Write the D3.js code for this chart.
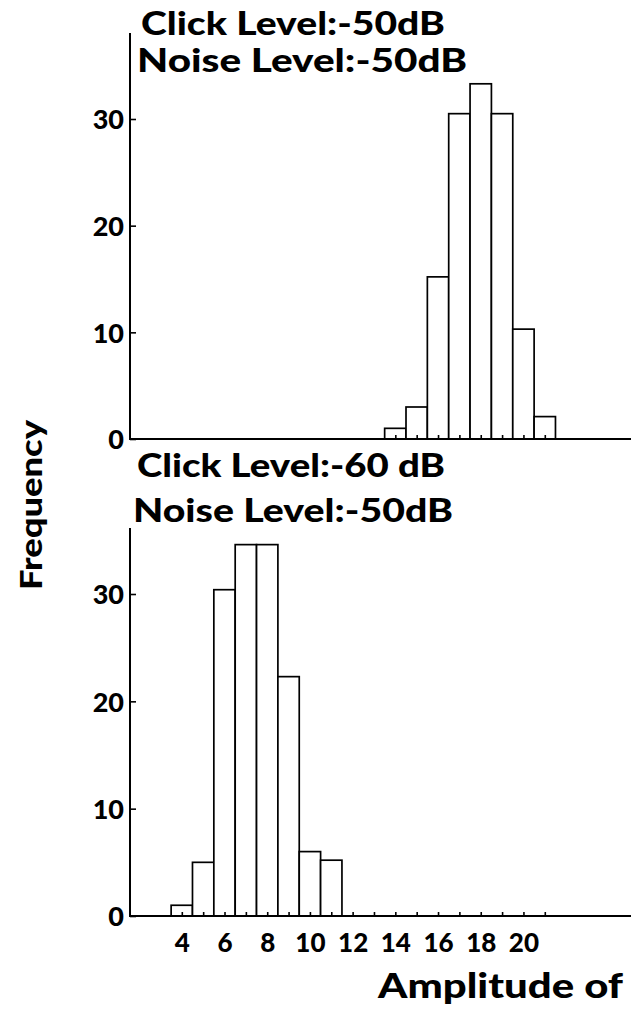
<!DOCTYPE html>
<html>
<head>
<meta charset="utf-8">
<script src="https://cdn.jsdelivr.net/npm/d3@7"></script>
<style>
  html, body { margin: 0; padding: 0; background: #fff; }
  svg { display: block; }
  text { font-family: Lato, "DejaVu Sans", sans-serif; font-weight: 900; fill: #000; }
</style>
</head>
<body>
<svg id="chart" width="631" height="1013"></svg>
<script>
// ---- data ----
const topAmplitudes = [14, 15, 16, 17, 18, 19, 20, 21];
const topCounts = [1, 3, 15.2, 30.5, 33.3, 30.5, 10.3, 2.1];
const bottomAmplitudes = [4, 5, 6, 7, 8, 9, 10, 11];
const bottomCounts = [1, 5, 30.4, 34.6, 34.6, 22.3, 6, 5.2];
const yTickValues = [0, 10, 20, 30];
const xTickLabels = [4, 6, 8, 10, 12, 14, 16, 18, 20];
const topTickMarks = [14, 15, 16, 17, 18, 19, 20, 21];
const bottomTickMarks = [4, 5, 6, 7, 8, 9, 10, 11, 12, 13, 14, 15, 16, 17, 18, 19, 20, 21];
const topTitle = ["Click Level:-50dB", "Noise Level:-50dB"];
const bottomTitle = ["Click Level:-60 dB", "Noise Level:-50dB"];
const yLabel = "Frequency";
const xLabel = "Amplitude of";

// ---- layout ----
const FONT = "Lato, 'DejaVu Sans', sans-serif";
const svg = d3.select("#chart");
const axisX = 130, rightEdge = 631;
const x = d3.scaleLinear().domain([0, 25]).range([96.4, 630.2]);
const yTop = d3.scaleLinear().domain([0, 30]).range([439, 119]);
const yBot = d3.scaleLinear().domain([0, 30]).range([916, 594]);

function panel(yScale, amps, counts, tickMarks, axisTopY, title, titleLayout) {
  const g = svg.append("g");
  g.selectAll("rect.bar").data(amps).join("rect")
    .attr("class", "bar")
    .attr("x", d => x(d - 0.5))
    .attr("width", d => x(d + 0.5) - x(d - 0.5))
    .attr("y", (d, i) => yScale(counts[i]))
    .attr("height", (d, i) => yScale(0) - yScale(counts[i]))
    .attr("fill", "#fff").attr("stroke", "#000").attr("stroke-width", 1.7);
  g.append("line")
    .attr("x1", axisX - 1).attr("x2", rightEdge)
    .attr("y1", yScale(0)).attr("y2", yScale(0))
    .attr("stroke", "#000").attr("stroke-width", 2);
  const xa = g.append("g").attr("transform", `translate(0,${yScale(0)})`)
    .call(d3.axisBottom(x).tickValues(tickMarks).tickSizeInner(-4).tickSizeOuter(0).tickFormat(""));
  xa.select(".domain").remove();
  xa.selectAll(".tick line").attr("stroke", "#000").attr("stroke-width", 1.6);
  g.append("line")
    .attr("x1", axisX).attr("x2", axisX)
    .attr("y1", axisTopY).attr("y2", yScale(0))
    .attr("stroke", "#000").attr("stroke-width", 2);
  const ya = g.append("g").attr("transform", `translate(${axisX},0)`)
    .call(d3.axisLeft(yScale).tickValues(yTickValues).tickSizeInner(-6).tickSizeOuter(0).tickPadding(6).tickFormat(d3.format("d")));
  ya.select(".domain").remove();
  ya.selectAll(".tick line").attr("stroke", "#000").attr("stroke-width", 1.6);
  ya.selectAll(".tick text").attr("font-size", 27).attr("font-family", FONT).attr("font-weight", 900)
    .attr("dy", "0.36em");
  title.forEach((t, i) => {
    const L = titleLayout[i];
    g.append("text").text(t)
      .attr("x", L.x).attr("y", L.y)
      .attr("font-size", 32)
      .attr("textLength", L.w).attr("lengthAdjust", "spacingAndGlyphs");
  });
  return g;
}

panel(yTop, topAmplitudes, topCounts, topTickMarks, 33, topTitle,
  [{x: 141, y: 35, w: 304}, {x: 137, y: 72, w: 330}]);
panel(yBot, bottomAmplitudes, bottomCounts, bottomTickMarks, 528, bottomTitle,
  [{x: 137, y: 477, w: 308}, {x: 133, y: 522, w: 320}]);

const xl = svg.append("g").attr("transform", `translate(0,${yBot(0)})`)
  .call(d3.axisBottom(x).tickValues(xTickLabels).tickSize(0).tickPadding(18).tickFormat(d3.format("d")));
xl.select(".domain").remove();
xl.selectAll(".tick text").attr("font-size", 26).attr("font-family", FONT).attr("font-weight", 900);

svg.append("text").text(yLabel)
  .attr("transform", "translate(42,505) rotate(-90)")
  .attr("text-anchor", "middle")
  .attr("font-size", 30)
  .attr("textLength", 170).attr("lengthAdjust", "spacingAndGlyphs");
svg.append("text").text(xLabel)
  .attr("x", 378).attr("y", 998)
  .attr("font-size", 34)
  .attr("textLength", 245).attr("lengthAdjust", "spacingAndGlyphs");
</script>
</body>
</html>
